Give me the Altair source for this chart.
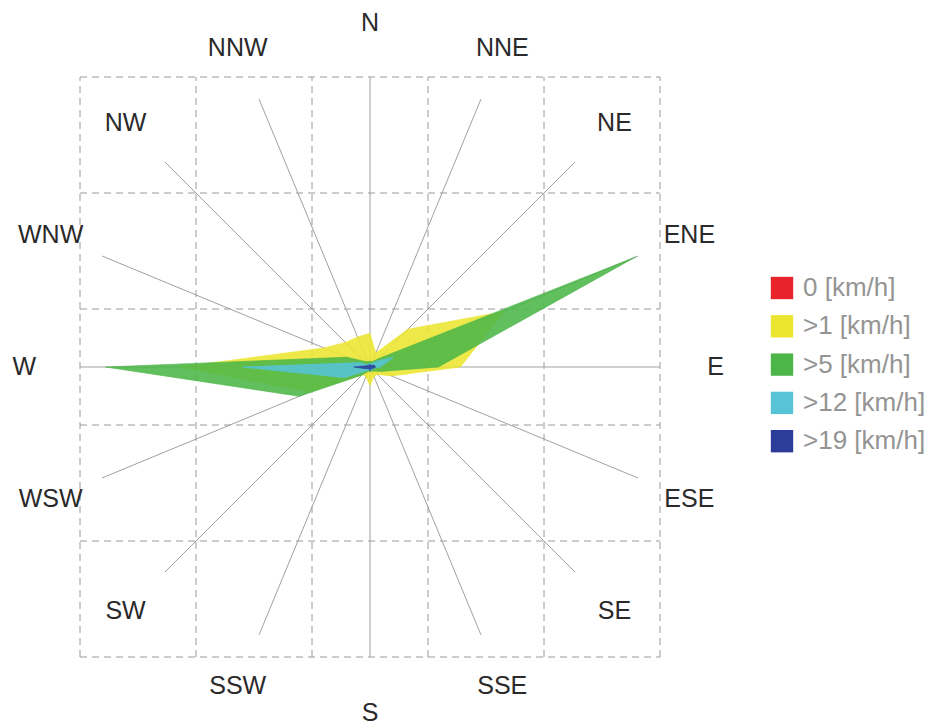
import math
import altair as alt
import pandas as pd

# ---------------- data ----------------
directions = ["N", "NNE", "NE", "ENE", "E", "ESE", "SE", "SSE",
              "S", "SSW", "SW", "WSW", "W", "WNW", "NW", "NNW"]
classes = ["0 [km/h]", ">1 [km/h]", ">5 [km/h]", ">12 [km/h]", ">19 [km/h]"]
colors = ["#e8232a", "#ece52f", "#4cb648", "#56c4d6", "#2b3d98"]

freq_0 = [0.1, 0.1, 0.1, 0.1, 0.1, 0.1, 0.1, 0.1, 0.1, 0.1, 0.1, 0.1, 0.1, 0.1, 0.1, 0.1]
freq_1 = [2.9, 1.3, 4.6, 12.5, 7.8, 2.0, 0.9, 0.9, 1.6, 0.9, 0.9, 5.6, 16.4, 4.3, 3.0, 2.8]
freq_5 = [0.5, 0.5, 1.0, 24.8, 5.9, 1.0, 0.5, 0.4, 0.4, 0.4, 1.0, 6.6, 22.8, 2.2, 0.7, 0.5]
freq_12 = [0.3, 0.3, 0.7, 2.2, 0.9, 0.3, 0.3, 0.3, 0.3, 0.3, 0.5, 2.4, 11.0, 1.0, 0.3, 0.3]
freq_19 = [0.2, 0.2, 0.2, 0.4, 0.5, 0.3, 0.2, 0.2, 0.3, 0.2, 0.2, 0.4, 1.4, 0.3, 0.2, 0.2]
series = [freq_0, freq_1, freq_5, freq_12, freq_19]

rmax = 25
grid_ticks = [-25, -15, -5, 5, 15, 25]

# ---------------- layout ----------------
W, H = 925, 720
PX = 11.6            # pixels per unit
CX, CY = 362, 359    # centre in plot-area pixels
xmin = -CX / PX
xmax = (W - CX) / PX
ymax = CY / PX
ymin = ymax - H / PX

xs = alt.Scale(domain=[xmin, xmax], nice=False, zero=False)
ys = alt.Scale(domain=[ymin, ymax], nice=False, zero=False)

def X(f="x"):
    return alt.X(f + ":Q", scale=xs, axis=None)

def Y(f="y"):
    return alt.Y(f + ":Q", scale=ys, axis=None)

ang = [i * 2 * math.pi / 16 for i in range(16)]

# grid
gv = pd.DataFrame({"x": grid_ticks, "y": [-rmax] * 6, "y2": [rmax] * 6})
gh = pd.DataFrame({"y": grid_ticks, "x": [-rmax] * 6, "x2": [rmax] * 6})
grid_v = alt.Chart(gv).mark_rule(color="#9a9a9a", strokeWidth=1, strokeDash=[7, 5]).encode(
    x=X(), y=Y(), y2="y2:Q")
grid_h = alt.Chart(gh).mark_rule(color="#9a9a9a", strokeWidth=1, strokeDash=[7, 5]).encode(
    y=Y(), x=X(), x2="x2:Q")

# spokes
sp = pd.DataFrame({
    "x": [0.0] * 16, "y": [0.0] * 16,
    "x2": [rmax * math.sin(a) for a in ang],
    "y2": [rmax * math.cos(a) for a in ang],
})
spokes = alt.Chart(sp).mark_rule(color="#a0a0a0", strokeWidth=1).encode(
    x=X(), y=Y(), x2="x2:Q", y2="y2:Q")

# polygons
polys = []
for name, vals, col in zip(classes, series, colors):
    rows = []
    for k in range(17):
        i = k % 16
        r = vals[i]
        rows.append({"k": k, "cls": name, "dir": directions[i],
                     "x": r * math.sin(ang[i]), "y": r * math.cos(ang[i])})
    df = pd.DataFrame(rows)
    polys.append(
        alt.Chart(df).mark_line(filled=True, fill=col, stroke=col, strokeWidth=0.6,
                                fillOpacity=0.88).encode(
            x=X(), y=Y(), order=alt.Order("k:Q"))
    )

# direction labels
LR = 29.8
lab = pd.DataFrame({
    "d": directions,
    "x": [LR * math.sin(a) for a in ang],
    "y": [LR * math.cos(a) for a in ang],
})
labels = alt.Chart(lab[lab.d != "N"]).mark_text(
    font="Liberation Sans", fontSize=25, color="#2a2a2a",
    align="center", baseline="middle").encode(x=X(), y=Y(), text="d:N")
label_n = alt.Chart(lab[lab.d == "N"]).mark_text(
    font="Liberation Sans", fontSize=25, color="#2a2a2a",
    align="center", baseline="middle", dy=2).encode(x=X(), y=Y(), text="d:N")

# legend
leg_rows = []
for j, (name, col) in enumerate(zip(classes, colors)):
    py = 288 + 38.3 * j - 8          # page -> plot pixels
    leg_rows.append({"cls": name, "col": col,
                     "x": (782 - 8 - CX) / PX,
                     "xt": (803 - 8 - CX) / PX,
                     "y": (CY - py) / PX})
lg = pd.DataFrame(leg_rows)
leg_sq = alt.Chart(lg).mark_square(size=500, opacity=1, filled=True).encode(
    x=X(), y=Y(),
    color=alt.Color("col:N", scale=None))
leg_tx = alt.Chart(lg).mark_text(font="Liberation Sans", fontSize=26, color="#949494",
                                 align="left", baseline="middle").encode(
    x=X("xt"), y=Y(), text="cls:N")

chart = alt.layer(grid_v, grid_h, spokes, *polys, labels, label_n, leg_sq, leg_tx).properties(
    width=W, height=H, autosize=alt.AutoSizeParams(type="none"), padding=0
).configure_view(strokeWidth=0)

chart.save("out.html", embed_options={"renderer": "svg", "actions": False})
